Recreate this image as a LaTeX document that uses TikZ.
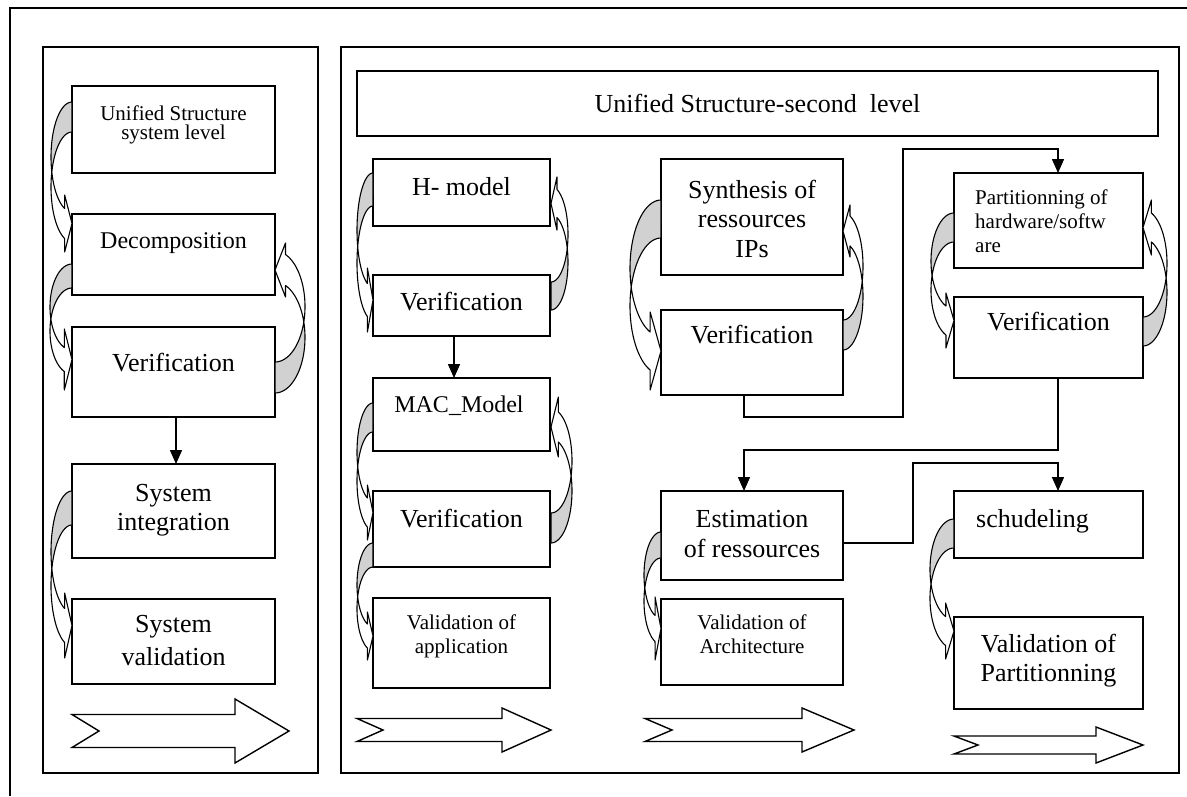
\documentclass[tikz,border=0pt]{standalone}
\usepackage{fontspec}
\setmainfont{Liberation Serif}
\usetikzlibrary{arrows.meta}

\tikzset{
  outerframe/.style={line width=1.6pt},
  panel/.style={draw, line width=1.6pt, inner sep=0pt, outer sep=0pt},
  bx/.style={draw, line width=1.6pt, fill=white, inner sep=0pt, outer sep=0pt},
  cvback/.style={draw, line width=1.1pt, fill=black!18, line join=round},
  cvfront/.style={draw, line width=1.1pt, fill=white, line join=round},
  blk/.style={draw, line width=1.4pt, fill=white, line join=miter},
  conn/.style={line width=1.5pt, -{Triangle[width=12pt,length=14pt]}},
  txtbig/.style={font=\fontsize{26}{#1}\selectfont, inner sep=0pt, align=center},
  txtbig/.default=29.5,
  txtmid/.style={font=\fontsize{24}{27}\selectfont, inner sep=0pt, align=center},
  txtsml/.style={font=\fontsize{21}{#1}\selectfont, inner sep=0pt, align=center},
  txtsml/.default=24,
}

% box from (x0,y0) to (x1,y1), pixel coordinates
\newcommand\mkbox[6]{\node[#1, minimum width={#5-#3}, minimum height={#6-#4}] (#2) at ({(#3+#5)/2},{(#4+#6)/2}) {};}

% curved ribbon arrow: R (box edge), L (bulge), y0 (start, back edge), y1 (start, front edge), yb1, yb2 (barbs)
\newcommand\carrow[6]{%
  \pgfmathsetmacro\cvrot{ifthenelse(#1>#2,0,180)}%
  \pgfmathsetmacro\cvW{abs(#1-#2)}%
  \pgfmathsetmacro\cvth{abs(#4-#3)}%
  \pgfmathsetmacro\cvm{abs((#5+#6)/2-#3)}%
  \pgfmathsetmacro\cvhw{(abs(#6-#5)-\cvth)/2}%
  \pgfmathsetmacro\cvhd{0.35*\cvW}%
  \pgfmathsetmacro\cvsn{sqrt(1-0.35*0.35)}%
  \pgfmathsetmacro\cva{(\cvm-\cvth/2)/(1+\cvsn)}%
  \pgfmathsetmacro\cvs{asin(\cvth/(2*\cva))}%
  \pgfmathsetmacro\cvtA{180-\cvs}%
  \pgfmathsetmacro\cvtB{180+\cvs}%
  \pgfmathsetmacro\cvtN{acos(-0.35)}%
  \pgfmathsetmacro\cvcB{\cva+\cvth}%
  \pgfmathsetmacro\cvyA{\cva+\cva*\cvsn}%
  \pgfmathsetmacro\cvyB{\cvyA+\cvth}%
  \begin{scope}[shift={(#1,#3)},rotate=\cvrot]
    \filldraw[cvback]
      plot[domain=0:1,samples=25,variable=\cvu]
        ({\cvW*cos(270+(\cvtA-270)*\cvu)},{\cva+\cva*sin(270+(\cvtA-270)*\cvu)})
      -- plot[domain=0:1,samples=25,variable=\cvu]
        ({\cvW*cos(\cvtB+(270-\cvtB)*\cvu)},{\cvcB+\cva*sin(\cvtB+(270-\cvtB)*\cvu)})
      -- cycle;
    \filldraw[cvfront]
      plot[domain=0:1,samples=35,variable=\cvu]
        ({\cvW*cos(\cvtB+(\cvtN-\cvtB)*\cvu)},{\cvcB+\cva*sin(\cvtB+(\cvtN-\cvtB)*\cvu)})
      -- (-\cvhd,\cvyB+\cvhw) -- (0,{(\cvyA+\cvyB)/2}) -- (-\cvhd,\cvyA-\cvhw) -- (-\cvhd,\cvyA)
      -- plot[domain=0:1,samples=25,variable=\cvu]
        ({\cvW*cos(\cvtN+(\cvtA-\cvtN)*\cvu)},{\cva+\cva*sin(\cvtN+(\cvtA-\cvtN)*\cvu)})
      -- cycle;
  \end{scope}}

% notched block arrow: x0, xnotch, xhead, xtip, yc, shaft half, head half
\newcommand\barrow[7]{\filldraw[blk] (#1,{#5-#6}) -- (#3,{#5-#6}) -- (#3,{#5-#7}) -- (#4,#5) -- (#3,{#5+#7}) -- (#3,{#5+#6}) -- (#1,{#5+#6}) -- (#2,#5) -- cycle;}

\begin{document}
\begin{tikzpicture}[x=1pt,y=-1pt]
\useasboundingbox (0,0) rectangle (1187,796);
\fill[white] (0,0) rectangle (1187,796);

% outer frame
\draw[outerframe] (10,796) -- (10,8) -- (1187,8);

% panels
\mkbox{panel}{lp}{43}{47}{318}{773}
\mkbox{panel}{rp}{341}{47}{1179}{773}

% title
\node[bx, minimum width=801, minimum height=65, font=\fontsize{26}{30}\selectfont]
  (title) at (757.5,103.5) {Unified Structure-second~ level};

% left panel boxes
\mkbox{bx}{us1}{72}{86}{275}{173}
\mkbox{bx}{dec}{72}{214}{275}{295}
\mkbox{bx}{ver1}{72}{327}{275}{417}
\mkbox{bx}{sysint}{72}{464}{275}{558}
\mkbox{bx}{sysval}{72}{599}{275}{684}

% column 1
\mkbox{bx}{hm}{373}{159}{550}{226}
\mkbox{bx}{ver2}{373}{275}{550}{336}
\mkbox{bx}{mac}{373}{378}{550}{451}
\mkbox{bx}{ver3}{373}{491}{550}{567}
\mkbox{bx}{valapp}{373}{598}{550}{688}

% column 2
\mkbox{bx}{syn}{661}{159}{843}{275}
\mkbox{bx}{ver4}{661}{310}{843}{395}
\mkbox{bx}{est}{661}{491}{843}{580}
\mkbox{bx}{valarch}{661}{599}{843}{685}

% column 3
\mkbox{bx}{part}{954}{173}{1143}{268}
\mkbox{bx}{ver5}{954}{297}{1143}{378}
\mkbox{bx}{sched}{954}{491}{1143}{558}
\mkbox{bx}{valpart}{954}{617}{1143}{709}

% texts
\node[txtsml=19.5, anchor=north] (t-us1) at (173.5,104) {\rule{0pt}{16pt}Unified Structure\\system level};
\node[txtmid, anchor=base] (t-dec) at (173.5,248) {Decomposition};
\node[txtbig, anchor=base] (t-ver1) at (173.5,371) {Verification};
\node[txtbig=29.5, anchor=north] (t-si) at (173.5,481) {\rule{0pt}{20pt}System\\integration};
\node[txtbig=33, anchor=north] (t-sv) at (173.5,612) {\rule{0pt}{20pt}System\\validation};

\node[txtbig, anchor=base] (t-hm) at (461.5,195) {H- model};
\node[txtbig, anchor=base] (t-ver2) at (461.5,310) {Verification};
\node[txtmid, anchor=base] (t-mac) at (459,412) {MAC\_Model};
\node[txtbig, anchor=base] (t-ver3) at (461.5,527) {Verification};
\node[txtsml=24, anchor=north] (t-va) at (461.5,613) {\rule{0pt}{16pt}Validation of\\application};

\node[txtbig=29.5, anchor=north] (t-syn) at (752,178) {\rule{0pt}{20pt}Synthesis of\\ressources\\IPs};
\node[txtbig, anchor=base] (t-ver4) at (752,343) {Verification};
\node[txtbig=30, anchor=north] (t-est) at (752,507) {\rule{0pt}{20pt}Estimation\\of ressources};
\node[txtsml=24, anchor=north] (t-varch) at (752,613) {\rule{0pt}{16pt}Validation of\\Architecture};

\node[txtsml=24, anchor=north west, align=left] (t-part) at (975,188) {\rule{0pt}{16pt}Partitionning of\\hardware/softw\\are};
\node[txtbig, anchor=base] (t-ver5) at (1048.5,330) {Verification};
\node[txtbig, anchor=base west] (t-sch) at (976,527) {schudeling};
\node[txtbig=29, anchor=north] (t-vp) at (1048.5,632) {\rule{0pt}{20pt}Validation of\\Partitionning};

% curved ribbon arrows
\carrow{72}{51}{102}{132}{195}{252}
\carrow{72}{50}{264}{288}{329}{390}
\carrow{275}{305}{393}{362}{297}{243}
\carrow{72}{51}{491}{525}{593}{658}

\carrow{373}{357}{173}{206}{268}{332}
\carrow{551}{568}{310}{282}{230}{177}
\carrow{373}{357}{403}{432}{485}{540}
\carrow{551}{572}{543}{513}{457}{397}
\carrow{373}{357}{543}{567}{612}{660}

\carrow{661}{630}{200}{238}{312}{390}
\carrow{843}{863}{350}{320}{257}{205}
\carrow{661}{644}{532}{558}{597}{660}

\carrow{954}{931}{213}{242}{293}{348}
\carrow{1143}{1167}{346}{317}{255}{200}
\carrow{954}{930}{519}{548}{603}{659}

% block arrows
\barrow{72}{99}{235}{289}{731}{16.5}{32}
\barrow{357}{383}{502}{551}{730}{11.5}{22}
\barrow{645}{672}{802}{854}{730}{11.5}{22}
\barrow{954}{978}{1096}{1143}{745}{9}{18}

% connectors
\coordinate (k1) at (903,417);
\coordinate (k2) at (903,149);
\coordinate (k3) at (1058,450);
\coordinate (k4) at (913,463);
\draw[conn] ([xshift=2.5pt]ver1.south) -- ([xshift=2.5pt]sysint.north);
\draw[conn] ([xshift=-7.5pt]ver2.south) -- ([xshift=-7.5pt]mac.north);
\draw[conn] ([xshift=-8pt]ver4.south) |- (k1) -- (k2) -| ([xshift=9.5pt]part.north);
\draw[conn] ([xshift=9.5pt]ver5.south) |- (k3) -| ([xshift=-8pt]est.north);
\draw[conn] ([yshift=-7.5pt]est.east) -| (k4) -| ([xshift=9.5pt]sched.north);
\end{tikzpicture}
\end{document}
